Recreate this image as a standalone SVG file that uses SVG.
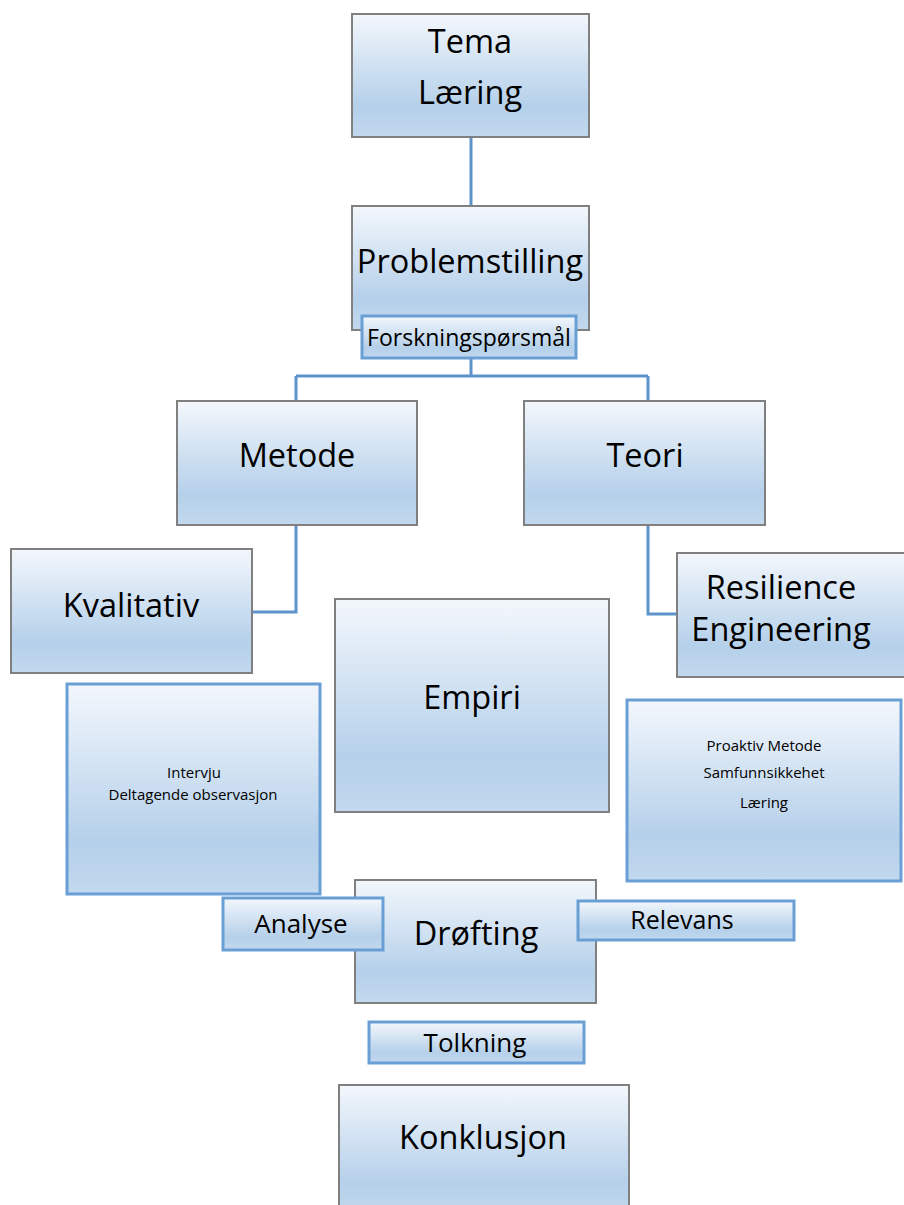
<svg xmlns="http://www.w3.org/2000/svg" width="904" height="1205" viewBox="0 0 904 1205">
<defs>
<linearGradient id="g" x1="0" y1="0" x2="0" y2="1">
<stop offset="0" stop-color="#f3f7fc"/>
<stop offset="0.75" stop-color="#b5d0ea"/>
<stop offset="1" stop-color="#c2d9ee"/>
</linearGradient>
</defs>
<style>
.n{fill:url(#g);stroke:#808080;stroke-width:2}
.b{fill:url(#g);stroke:#6a9fd6;stroke-width:3}
.c{fill:none;stroke:#5d93cb;stroke-width:3}
text{font-family:"Open Sans","Noto Sans","DejaVu Sans",sans-serif;fill:#000;text-anchor:middle}
.L{font-size:32.5px}
.M{font-size:26px}
.S{font-size:15px}
</style>
<rect width="904" height="1205" fill="#fff"/>
<g id="connectors">
<path class="c" d="M471,137V206"/>
<path class="c" d="M471,358V376M296,376H648M296,376V401M648,376V401"/>
<path class="c" d="M296,525V612H252"/>
<path class="c" d="M648,525V614H677"/>
</g>
<g id="tema"><rect class="n" x="352" y="14" width="237" height="123"/><text class="L" x="470" y="53">Tema</text><text class="L" x="470" y="104">Læring</text></g>
<g id="problemstilling"><rect class="n" x="352" y="206" width="237" height="124"/><text class="L" x="470" y="273">Problemstilling</text></g>
<g id="forskningsporsmal"><rect class="b" x="362" y="316" width="214" height="42"/><text x="469" y="346" style="font-size:23px">Forskningspørsmål</text></g>
<g id="metode"><rect class="n" x="177" y="401" width="240" height="124"/><text class="L" x="297" y="467">Metode</text></g>
<g id="teori"><rect class="n" x="524" y="401" width="241" height="124"/><text class="L" x="645" y="467">Teori</text></g>
<g id="kvalitativ"><rect class="n" x="11" y="549" width="241" height="124"/><text class="L" x="131" y="617">Kvalitativ</text></g>
<g id="resilience"><rect class="n" x="677" y="553" width="240" height="124"/><text class="L" x="781" y="599">Resilience</text><text class="L" x="781" y="641">Engineering</text></g>
<g id="empiri"><rect class="n" x="335" y="599" width="274" height="213"/><text class="L" x="472" y="709">Empiri</text></g>
<g id="intervju"><rect class="b" x="67" y="684" width="253" height="210"/><text class="S" x="194" y="778">Intervju</text><text class="S" x="193" y="800">Deltagende observasjon</text></g>
<g id="proaktiv"><rect class="b" x="627" y="700" width="274" height="181"/><text class="S" x="764" y="751">Proaktiv Metode</text><text class="S" x="764" y="778">Samfunnsikkehet</text><text class="S" x="764" y="808">Læring</text></g>
<g id="drofting"><rect class="n" x="355" y="880" width="241" height="123"/><text class="L" x="476" y="945">Drøfting</text></g>
<g id="analyse"><rect class="b" x="223" y="898" width="160" height="52"/><text class="M" x="301" y="933">Analyse</text></g>
<g id="relevans"><rect class="b" x="578" y="901" width="216" height="39"/><text class="M" x="682" y="929" style="font-size:25px">Relevans</text></g>
<g id="tolkning"><rect class="b" x="369" y="1022" width="215" height="41"/><text class="M" x="475" y="1052">Tolkning</text></g>
<g id="konklusjon"><rect class="n" x="339" y="1085" width="290" height="130"/><text class="L" x="483" y="1149">Konklusjon</text></g>
</svg>
